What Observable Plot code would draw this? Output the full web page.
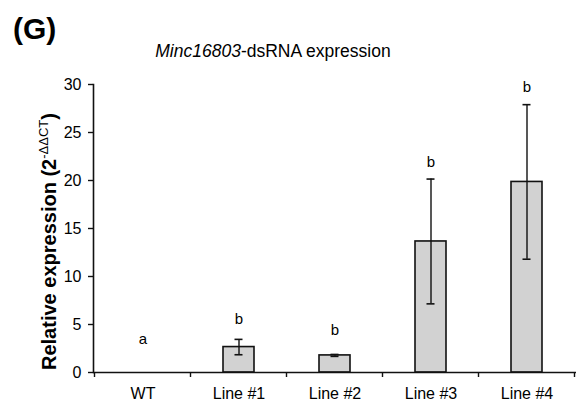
<!DOCTYPE html>
<html>
<head>
<meta charset="utf-8">
<script src="https://cdn.jsdelivr.net/npm/d3@7"></script>
<script src="https://cdn.jsdelivr.net/npm/@observablehq/plot@0.6"></script>
<style>
  html, body { margin: 0; padding: 0; background: #fff; }
  #chart svg { display: block; }
</style>
</head>
<body>
<div id="chart"></div>
<script>
const lines = ["WT", "Line #1", "Line #2", "Line #3", "Line #4"];
const means = [0, 2.65, 1.78, 13.65, 19.85];
const errs = [0, 0.8, 0.1, 6.5, 8.05];
const letters = ["a", "b", "b", "b", "b"];
const letterY = [3.5, 5.6, 4.4, 21.9, 29.7];
const yTicks = [0, 5, 10, 15, 20, 25, 30];

const data = lines.map((line, i) => ({
  line, mean: means[i], lo: means[i] - errs[i], hi: means[i] + errs[i],
  err: errs[i], letter: letters[i], ly: letterY[i]
}));
const errData = data.filter(d => d.err > 0);

const W = 579, H = 406;
const plot = Plot.plot({
  width: W, height: H,
  marginTop: 84, marginBottom: 34, marginLeft: 93, marginRight: 3,
  style: { fontFamily: "'Liberation Sans', Arial, sans-serif", fontSize: "15px", color: "#000", background: "#fff" },
  x: { domain: lines, paddingInner: 0.68, paddingOuter: 0.34, label: null },
  y: { domain: [0, 30], label: null },
  marks: [
    Plot.barY(data, { x: "line", y: "mean", fill: "#d2d2d2", stroke: "#111", strokeWidth: 1.6 }),
    Plot.ruleX(errData, { x: "line", y1: "lo", y2: "hi", stroke: "#111", strokeWidth: 1.4 }),
    Plot.tickY(errData, { x: "line", y: "hi", stroke: "#111", strokeWidth: 1.6, insetLeft: 11.5, insetRight: 11.5 }),
    Plot.tickY(errData, { x: "line", y: "lo", stroke: "#111", strokeWidth: 1.6, insetLeft: 11.5, insetRight: 11.5 }),
    Plot.text(data, { x: "line", y: "ly", text: "letter", fontSize: 15, fill: "#000" }),
    Plot.axisY({ ticks: yTicks, tickSize: 5, tickPadding: 7, fontSize: 16, stroke: "#111", strokeWidth: 1.4, label: null }),
    Plot.axisX({ tickSize: 0, tickPadding: 15, fontSize: 16, label: null }),
    Plot.frame({ anchor: "left", stroke: "#111", strokeWidth: 1.6 }),
    Plot.ruleY([0], { stroke: "#111", strokeWidth: 1.6 })
  ]
});
document.getElementById("chart").appendChild(plot);

const svg = d3.select(plot);
const xs = plot.scale("x");
const ysc = plot.scale("y");
const y0 = ysc.apply(0);
const gap = xs.step - xs.bandwidth;
const bounds = lines.map(l => xs.apply(l) - gap / 2);
bounds.push(xs.apply(lines[lines.length - 1]) + xs.bandwidth + gap / 2);
svg.append("g").selectAll("line").data(bounds).join("line")
  .attr("x1", d => d).attr("x2", d => d)
  .attr("y1", y0).attr("y2", y0 + 5)
  .attr("stroke", "#111").attr("stroke-width", 1.4);

const FONT = "'Liberation Sans', Arial, sans-serif";

// Panel letter
svg.append("text").attr("x", 13).attr("y", 39).attr("text-anchor", "start")
  .attr("font-family", FONT)
  .attr("font-size", 30).attr("font-weight", "bold").text("(G)");

// Title
const t = svg.append("text").attr("x", 273).attr("y", 56.5).attr("text-anchor", "middle")
  .attr("font-family", FONT).attr("font-size", 17.5);
t.append("tspan").attr("font-style", "italic").text("Minc16803");
t.append("tspan").text("-dsRNA expression");

// Y label
const yl = svg.append("text")
  .attr("transform", `translate(56,${ysc.apply(0) - 2}) rotate(-90)`)
  .attr("text-anchor", "start")
  .attr("font-family", FONT)
  .attr("font-size", 20).attr("font-weight", "bold");
yl.append("tspan").text("Relative expression (2");
yl.append("tspan").attr("font-size", 13).attr("font-weight", "normal").attr("dy", -8).text("-ΔΔCT");
yl.append("tspan").attr("dy", 8).text(")");
</script>
</body>
</html>
